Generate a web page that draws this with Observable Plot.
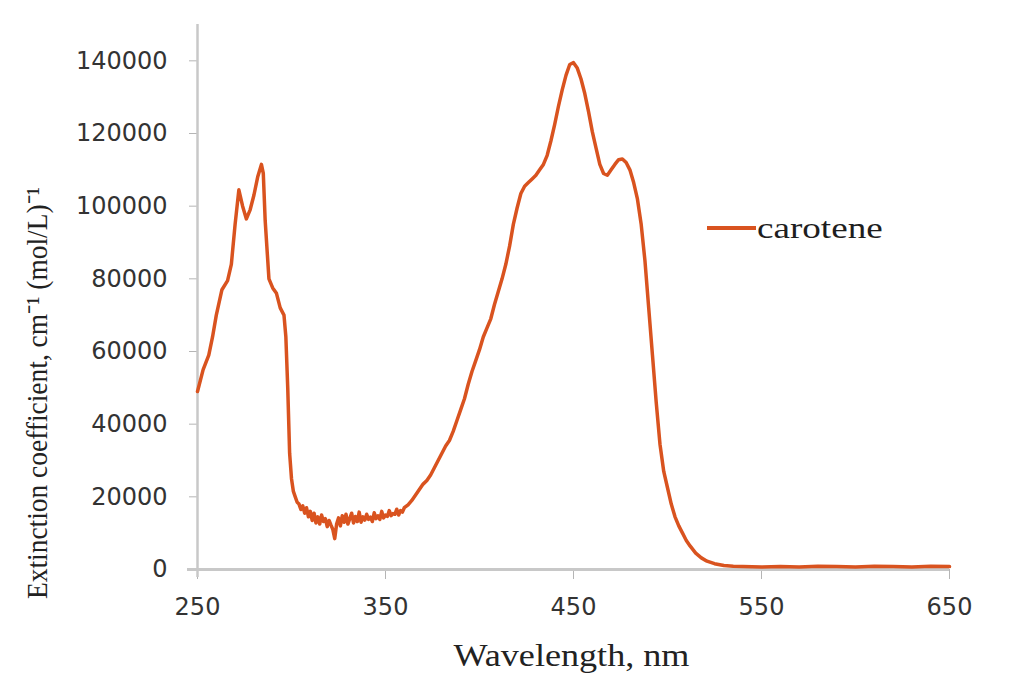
<!DOCTYPE html>
<html>
<head>
<meta charset="utf-8">
<script src="https://cdn.jsdelivr.net/npm/d3@7"></script>
<script src="https://cdn.jsdelivr.net/npm/@observablehq/plot@0.6"></script>
<style>
  html, body { margin: 0; padding: 0; background: #fff; }
  #wrap { position: relative; width: 1026px; height: 675px; }
  #wrap svg [aria-label="y-axis tick"], #wrap svg [aria-label="x-axis tick"] { stroke: #b5b5b5; }
  #legend { position: absolute; left: 707px; top: 210px; height: 36px; display: flex; align-items: center; }
  #legend .sw { width: 49px; height: 4px; background: #d9531f; }
  #legend .lab { font-family: "Liberation Serif", serif; font-size: 29px; color: #1e1e1e; display: inline-block; transform: scaleX(1.28); transform-origin: left center; margin-left: 1px; }
</style>
</head>
<body>
<div id="wrap"></div>
<script>
const seriesName = "carotene";
const wavelength = [250,253,256,258,260,263,266,268,270,272,274,276,278,280,282,284,285,286,288,290,292,294,296,297,298,299,300,301,302,303,304,305,306,307,308,309,310,311,312,313,314,315,316,317,318,319,320,321,322,323,324,325,326,327,328,329,330,331,332,333,334,335,336,337,338,339,340,341,342,343,344,345,346,347,348,349,350,351,352,353,354,355,356,357,358,359,360,362,364,366,368,370,372,374,376,378,380,382,384,386,388,390,392,394,396,398,400,402,404,406,408,410,412,414,416,418,420,422,424,426,428,430,432,434,436,438,440,442,444,446,448,450,452,454,456,458,460,462,464,466,468,470,472,474,476,478,480,482,484,486,488,490,492,494,496,498,500,502,504,506,508,510,512,515,518,521,525,530,535,540,550,560,570,580,590,600,610,620,630,640,650];
const extinction = [49000,55000,59000,64000,70000,77000,79500,84000,95000,104500,100000,96500,99000,103000,108000,111500,109000,96000,80000,77500,76000,72000,70000,64000,50000,32000,25000,21500,20000,18500,18000,16500,17500,15500,17000,14500,16000,13500,15500,12800,14500,12500,15000,13200,14000,11800,13500,12200,11000,8500,12500,14200,12000,14800,13000,15200,12500,14000,15500,12800,14600,13200,15800,13000,14500,13600,15200,13800,14400,13200,15600,14000,14800,13800,16000,14200,15000,14600,16200,14800,15400,15200,16600,15000,16200,15800,17000,17800,19000,20500,22000,23500,24500,26000,28000,30000,32000,34000,35500,38000,41000,44000,47000,51000,54500,57500,60500,64000,66500,69000,73000,76500,80000,84000,89000,95000,99500,103500,105500,106500,107500,108500,110000,111500,114000,118000,122500,127500,132000,136000,139000,139500,138000,135000,131000,126000,120500,116000,111500,109000,108500,110000,111500,112800,113000,112000,110000,106500,102000,95000,85000,72000,59000,46000,34500,27000,22500,18000,14500,12000,10000,8000,6500,4500,3200,2300,1600,1100,900,800,700,800,700,900,800,700,900,800,700,900,800];
const xTicks = [250,350,450,550,650];
const yTicks = [0,20000,40000,60000,80000,100000,120000,140000];
const xTitle = "Wavelength, nm";
const yTitle = "Extinction coefficient, cm\u207B\u00B9 (mol/L)\u207B\u00B9";

const data = wavelength.map((w, i) => ({w, v: extinction[i]}));
const lineColor = "#d9531f";

const chart = Plot.plot({
  width: 1026,
  height: 675,
  marginLeft: 197,
  marginRight: 77,
  marginTop: 24,
  marginBottom: 106,
  x: {domain: [250, 650]},
  y: {domain: [0, 150000]},
  marks: [
    Plot.axisY({ticks: yTicks, tickFormat: d3.format("d"), tickSize: 8, tickPadding: 22, fontSize: 24, fontFamily: "DejaVu Sans", color: "#333", label: null}),
    Plot.axisX({ticks: xTicks, tickFormat: d3.format("d"), tickSize: 10, tickPadding: 18, fontSize: 24, fontFamily: "DejaVu Sans", color: "#333", label: null}),
    Plot.ruleY([0], {stroke: "#c8c8c8", strokeWidth: 3, insetLeft: -10}),
    Plot.ruleX([250], {stroke: "#c8c8c8", strokeWidth: 2.5, insetBottom: -8}),
    Plot.line(data, {x: "w", y: "v", stroke: lineColor, strokeWidth: 3.5, strokeLinejoin: "round"}),
    Plot.text([xTitle], {frameAnchor: "bottom", lineAnchor: "bottom", dy: 96, dx: -2, fontFamily: "Liberation Serif", fontSize: 31, fill: "#222", className: "xtitle"}),
    Plot.text([yTitle], {frameAnchor: "left", textAnchor: "middle", rotate: -90, dx: -160, dy: 96, fontFamily: "Liberation Serif", fontSize: 30, fill: "#222", className: "ytitle"})
  ]
});
document.getElementById("wrap").appendChild(chart);
chart.querySelectorAll(".xtitle text").forEach(t => { t.setAttribute("textLength", 236); t.setAttribute("lengthAdjust", "spacingAndGlyphs"); });
chart.querySelectorAll(".ytitle text").forEach(t => { t.setAttribute("textLength", 412); t.setAttribute("lengthAdjust", "spacingAndGlyphs"); });

const legend = document.createElement("div");
legend.id = "legend";
legend.innerHTML = `<span class="sw"></span><span class="lab">${seriesName}</span>`;
document.getElementById("wrap").appendChild(legend);
</script>
</body>
</html>
